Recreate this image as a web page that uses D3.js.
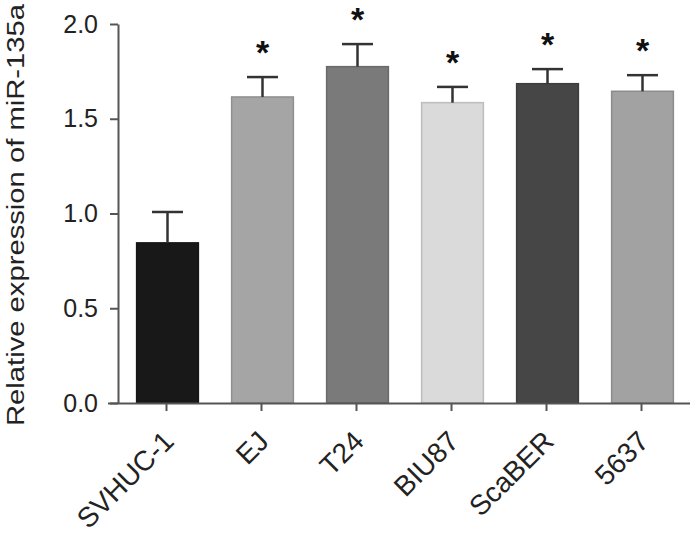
<!DOCTYPE html>
<html>
<head>
<meta charset="utf-8">
<script src="https://cdn.jsdelivr.net/npm/d3@7"></script>
<style>
  body { margin: 0; background: #fff; }
  svg { display: block; font-family: "Liberation Sans", Arial, sans-serif; }
</style>
</head>
<body>
<svg id="svg" width="691" height="538"></svg>
<script>
// values
const cells = ['SVHUC-1', 'EJ', 'T24', 'BIU87', 'ScaBER', '5637'];
const means = [0.845, 1.615, 1.775, 1.585, 1.685, 1.645];
const errs  = [0.163, 0.105, 0.119, 0.083, 0.077, 0.085];
const signif = ['', '*', '*', '*', '*', '*'];
const yTicks = [0, 0.5, 1.0, 1.5, 2.0];
const fills = ['#181818', '#a5a5a5', '#7a7a7a', '#dadada', '#464646', '#a2a2a2'];

const svg = d3.select('#svg');
const axisCol = '#555';

const x = d3.scaleBand().domain(cells).range([119, 689]).paddingInner(0.35).paddingOuter(0.175);
const y = d3.scaleLinear().domain([0, 2]).range([403, 24]);

const data = cells.map((c, i) => ({c: c, m: means[i], e: errs[i], s: signif[i], f: fills[i]}));

// bars
svg.append('g').selectAll('rect').data(data).join('rect')
   .attr('x', d => x(d.c) + 1)
   .attr('y', d => y(d.m))
   .attr('width', x.bandwidth())
   .attr('height', d => y(0) - y(d.m))
   .attr('fill', d => d.f)
   .attr('stroke', d => d3.color(d.f).darker(0.4))
   .attr('stroke-width', 1.5);

// error bars (upper only)
const cx = d => x(d.c) + 1 + x.bandwidth()/2;
const eb = svg.append('g').attr('stroke', '#333').attr('stroke-width', 2.5);
eb.selectAll('.v').data(data).join('line')
  .attr('x1', cx).attr('x2', cx)
  .attr('y1', d => y(d.m)).attr('y2', d => y(d.m + d.e));
eb.selectAll('.h').data(data).join('line')
  .attr('x1', d => cx(d) - 15.5).attr('x2', d => cx(d) + 15.5)
  .attr('y1', d => y(d.m + d.e)).attr('y2', d => y(d.m + d.e));

// significance stars
svg.append('g').selectAll('text').data(data.filter(d => d.s)).join('text')
   .attr('x', cx)
   .attr('y', d => y(d.m + d.e) - 13)
   .attr('text-anchor', 'middle')
   .attr('font-size', 34)
   .attr('font-weight', 'bold')
   .attr('fill', '#111')
   .text(d => d.s);

// y axis
const yAxis = svg.append('g').attr('transform', 'translate(118,0)')
   .call(d3.axisLeft(y).tickValues(yTicks).tickFormat(d3.format('.1f')).tickSize(8).tickSizeOuter(0));
yAxis.select('.domain').attr('stroke', axisCol).attr('stroke-width', 2);
yAxis.selectAll('.tick line').attr('stroke', axisCol).attr('stroke-width', 2);
yAxis.selectAll('.tick text').attr('font-size', 25).attr('fill', '#222').attr('x', -20)
     .attr('font-family', '"Liberation Sans", Arial, sans-serif');

// x axis
const xAxis = svg.append('g').attr('transform', 'translate(0,403)')
   .call(d3.axisBottom(x).tickSize(8).tickSizeOuter(0));
xAxis.select('.domain').attr('d', 'M108,0.5H690').attr('stroke', axisCol).attr('stroke-width', 2);
xAxis.selectAll('.tick line').attr('stroke', axisCol).attr('stroke-width', 2);
xAxis.selectAll('.tick text')
     .attr('font-size', 28).attr('fill', '#222')
     .attr('font-family', '"Liberation Sans", Arial, sans-serif')
     .attr('text-anchor', 'end')
     .attr('x', 0).attr('y', 0).attr('dy', 0)
     .attr('transform', 'translate(9,40) rotate(-45)');

// y label
svg.append('text')
   .attr('transform', 'translate(24,215) rotate(-90)')
   .attr('text-anchor', 'middle')
   .attr('font-size', 23)
   .attr('fill', '#222')
   .attr('textLength', 422)
   .attr('lengthAdjust', 'spacingAndGlyphs')
   .text('Relative expression of miR-135a');
</script>
</body>
</html>
